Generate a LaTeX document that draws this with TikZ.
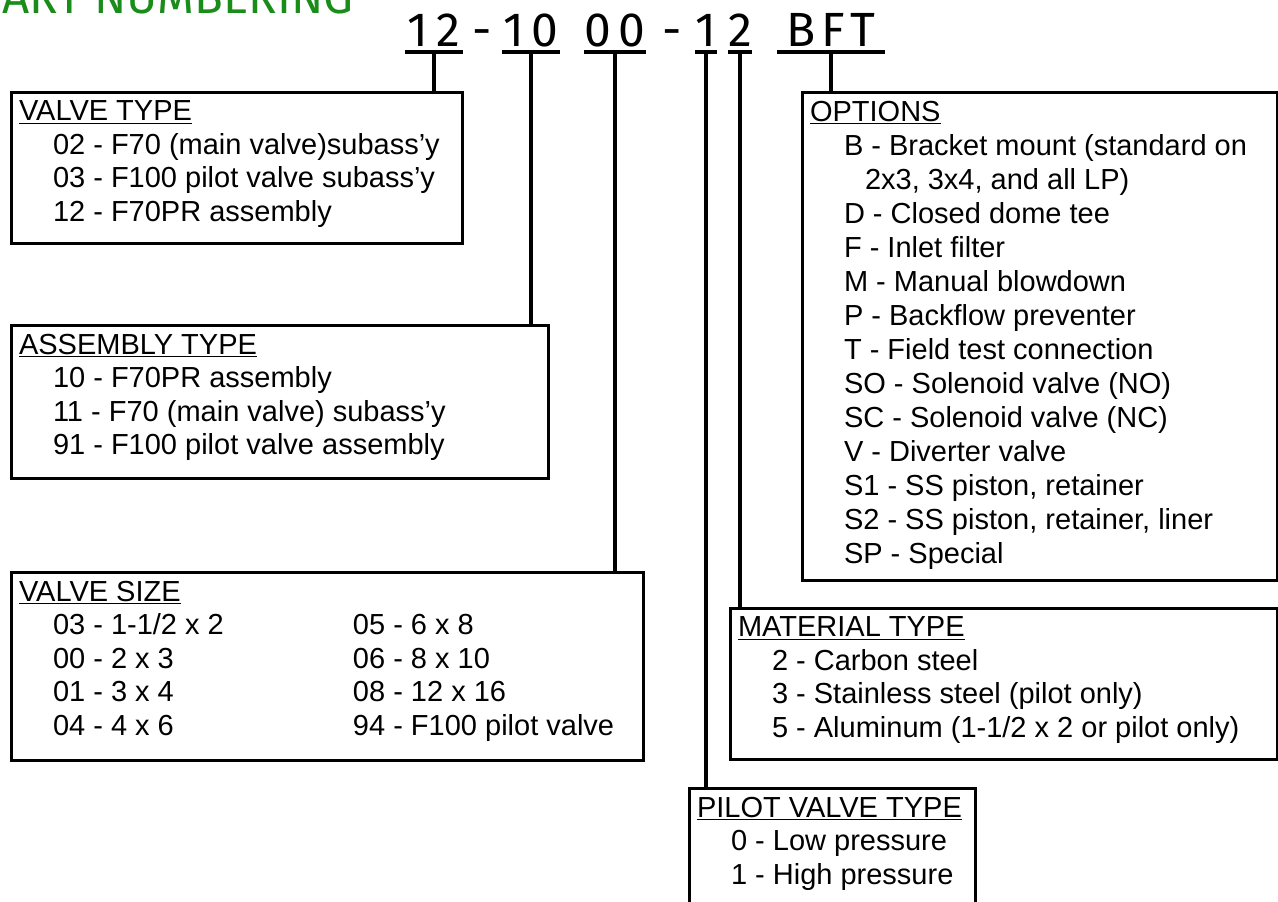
\documentclass[tikz,border=0pt]{standalone}
\usepackage{fontspec}
\setmainfont{Liberation Sans}
\newfontfamily\partfont{Fira Sans}
\usepackage{xcolor}
\definecolor{title-green}{HTML}{1A8C1A}
\newdimen\pxu
\pxu=0.75pt
\tikzset{box/.style = {draw, line width=2.25pt, anchor=north west, inner xsep=6pt, inner ysep=6.75pt, outer sep=0pt}}
\tikzset{part/.style = {font=\partfont\fontsize{36pt}{40pt}\selectfont, inner sep=0pt, outer sep=0pt, text depth=4.5pt, anchor=base}}
\tikzset{heading/.style = {font=\partfont\fontsize{35.5pt}{38pt}\selectfont, text=title-green, inner sep=0pt, anchor=base west}}
\tikzset{stem/.style = {line width=2.6pt}}
\newcommand{\row}{\hspace*{34\pxu}}

\begin{document}
\begin{tikzpicture}[x=0.75pt, y=-0.75pt,
  font=\fontsize{21.75pt}{25.125pt}\selectfont
]
\useasboundingbox (0,0) rectangle (1278,901);
\clip (0,0) rectangle (1278,901);

% title runs off the page at the top
\node[heading] (ttl) at (2,13) {\llap{P}ART NUMBERING};

% part number
\node[part, minimum width=43.5pt] (pn12) at (434,46) {1\kern6pt2};
\node[part] (d1) at (482,46) {-};
\node[part, minimum width=43.5pt] (pn10) at (531,46) {1\kern6pt0};
\node[part, minimum width=45pt] (pn00) at (615,46) {0\kern6pt0};
\node[part] (d2) at (672,46) {-};
\node[part, minimum width=16.5pt] (pn1) at (706,46) {1};
\node[part, minimum width=18pt] (pn2) at (740,46) {2};
\node[part, minimum width=81pt] (pnbft) at (831,46) {B\kern4.5pt F\kern4.5pt T};

\node[box] (vtype) at (11,92) {\parbox[t][133\pxu][t]{435\pxu}{\underline{VALVE TYPE}\\
  \row 02 - F70 (main valve)subass'y\\
  \row 03 - F100 pilot valve subass'y\\
  \row 12 - F70PR assembly}};
\node[box] (atype) at (11,325) {\parbox[t][135\pxu][t]{521\pxu}{\underline{ASSEMBLY TYPE}\\
  \row 10 - F70PR assembly\\
  \row 11 - F70 (main valve) subass'y\\
  \row 91 - F100 pilot valve assembly}};
\node[box] (vsize) at (11,572) {\parbox[t][170\pxu][t]{616\pxu}{\underline{VALVE SIZE}\\
  \row\makebox[225pt][l]{03 - 1-1/2 x 2}05 - 6 x 8\\
  \row\makebox[225pt][l]{00 - 2 x 3}06 - 8 x 10\\
  \row\makebox[225pt][l]{01 - 3 x 4}08 - 12 x 16\\
  \row\makebox[225pt][l]{04 - 4 x 6}94 - F100 pilot valve}};
\node[box] (opts) at (802,92) {\parbox[t][470\pxu][t]{459\pxu}{\baselineskip=25.5pt
  \underline{OPTIONS}\\
  \row B - Bracket mount (standard on\\
  \hspace*{55\pxu}2x3, 3x4, and all LP)\\
  \row D - Closed dome tee\\
  \row F - Inlet filter\\
  \row M - Manual blowdown\\
  \row P - Backflow preventer\\
  \row T - Field test connection\\
  \row SO - Solenoid valve (NO)\\
  \row SC - Solenoid valve (NC)\\
  \row V - Diverter valve\\
  \row S1 - SS piston, retainer\\
  \row S2 - SS piston, retainer, liner\\
  \row SP - Special}};
\node[box] (mtype) at (730,608) {\parbox[t][133\pxu][t]{531\pxu}{\underline{MATERIAL TYPE}\\
  \row 2 - Carbon steel\\
  \row 3 - Stainless steel (pilot only)\\
  \row 5 - Aluminum (1-1/2 x 2 or pilot only)}};
\node[box] (ptype) at (689,788) {\parbox[t][122\pxu][t]{270\pxu}{\underline{PILOT VALVE TYPE}\\
  \row 0 - Low pressure\\
  \row 1 - High pressure}};

\draw[stem] (pn12.south west) -- (pn12.south east);
\draw[stem] (pn10.south west) -- (pn10.south east);
\draw[stem] (pn00.south west) -- (pn00.south east);
\draw[stem] (pn1.south west) -- (pn1.south east);
\draw[stem] (pn2.south west) -- (pn2.south east);
\draw[stem] (pnbft.south west) -- (pnbft.south east);

\draw[stem] (pn12.south) -- (pn12.south |- vtype.north);
\draw[stem] (pn10.south) -- (pn10.south |- atype.north);
\draw[stem] (pn00.south) -- (pn00.south |- vsize.north);
\draw[stem] (pn1.south) -- (pn1.south |- ptype.north);
\draw[stem] (pn2.south) -- (pn2.south |- mtype.north);
\draw[stem] (pnbft.south) -- (pnbft.south |- opts.north);

\end{tikzpicture}
\end{document}
